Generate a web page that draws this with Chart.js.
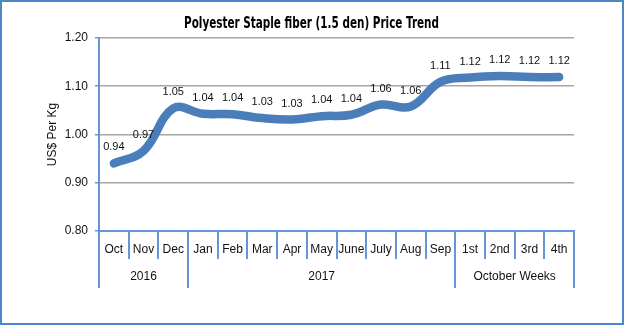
<!DOCTYPE html>
<html>
<head>
<meta charset="utf-8">
<script src="https://cdn.jsdelivr.net/npm/chart.js@4.4.1/dist/chart.umd.min.js"></script>
<style>
  html, body { margin: 0; padding: 0; background: #fff; }
  #wrap { position: relative; width: 625px; height: 325px; }
  #frame { position: absolute; left: 0; top: 0; width: 620px; height: 321px; border: 2px solid #4a86c8; pointer-events: none; }
</style>
</head>
<body>
<div id="wrap">
  <canvas id="priceChart" width="625" height="325"></canvas>
  <div id="frame"></div>
</div>
<script>
  const chartTitle = 'Polyester Staple fiber (1.5 den) Price Trend';
  const months = ['Oct', 'Nov', 'Dec', 'Jan', 'Feb', 'Mar', 'Apr', 'May', 'June', 'July', 'Aug', 'Sep', '1st', '2nd', '3rd', '4th'];
  const prices = [0.94, 0.966, 1.054, 1.043, 1.042, 1.034, 1.031, 1.038, 1.041, 1.062, 1.058, 1.109, 1.118, 1.121, 1.119, 1.119];
  const groups = ['2016', '2017', 'October Weeks'];
  const groupSizes = [3, 9, 4];
  const yTicks = [0.8, 0.9, 1.0, 1.1, 1.2];

  const axisBlue = '#6595d6';

  // titulo estrecho (no hay Arial Narrow), se comprime en horizontal
  const narrowTitle = {
    id: 'narrowTitle',
    afterDraw(chart) {
      const ctx = chart.ctx;
      ctx.save();
      ctx.font = 'bold 16px "DejaVu Sans Condensed", "DejaVu Sans", sans-serif';
      ctx.fillStyle = '#000';
      ctx.textBaseline = 'alphabetic';
      const w = ctx.measureText(chartTitle).width;
      const targetW = 255;
      const cx = (chart.chartArea.left + chart.chartArea.right) / 2 - 25;
      ctx.translate(cx - targetW / 2, 28);
      ctx.scale(targetW / w, 1);
      ctx.fillText(chartTitle, 0, 0);
      ctx.restore();
    }
  };

  // etiquetas de valor encima de cada punto
  const valueLabels = {
    id: 'valueLabels',
    afterDatasetsDraw(chart) {
      const ctx = chart.ctx;
      const meta = chart.getDatasetMeta(0);
      ctx.save();
      ctx.font = '11px "Liberation Sans", Arial, sans-serif';
      ctx.fillStyle = '#111';
      ctx.textAlign = 'center';
      ctx.textBaseline = 'middle';
      meta.data.forEach((pt, i) => {
        ctx.fillText(prices[i].toFixed(2), pt.x, pt.y - 16);
      });
      ctx.restore();
    }
  };

  // divisiones del eje x y fila de grupos
  const groupAxis = {
    id: 'groupAxis',
    afterDraw(chart) {
      const ctx = chart.ctx;
      const x = chart.scales.x;
      const half = (x.getPixelForTick(1) - x.getPixelForTick(0)) / 2;
      const edge = (i) => x.getPixelForTick(0) - half + i * half * 2;
      const top = x.top;
      const bounds = [0];
      groupSizes.forEach((n) => bounds.push(bounds[bounds.length - 1] + n));

      ctx.save();
      ctx.strokeStyle = axisBlue;
      ctx.lineWidth = 2;
      for (let i = 0; i <= months.length; i++) {
        const px = Math.round(edge(i));
        const bottom = bounds.includes(i) ? top + 57 : top + 28;
        ctx.beginPath();
        ctx.moveTo(px, top);
        ctx.lineTo(px, bottom);
        ctx.stroke();
      }
      ctx.font = '12px "Liberation Sans", Arial, sans-serif';
      ctx.fillStyle = '#111';
      ctx.textAlign = 'center';
      ctx.textBaseline = 'middle';
      groups.forEach((g, k) => {
        const cx = (edge(bounds[k]) + edge(bounds[k + 1])) / 2;
        ctx.fillText(g, cx, top + 46);
      });
      ctx.restore();
    }
  };

  new Chart(document.getElementById('priceChart'), {
    type: 'line',
    data: {
      labels: months,
      datasets: [{
        data: prices,
        borderColor: '#4a7ebb',
        borderWidth: 8.5,
        borderCapStyle: 'round',
        tension: 0.4,
        pointRadius: 0,
        fill: false
      }]
    },
    options: {
      responsive: false,
      devicePixelRatio: 1,
      animation: false,
      layout: { padding: { left: 40, right: 51, top: 38, bottom: 0 } },
      plugins: {
        legend: { display: false },
        tooltip: { enabled: false },
        title: { display: false }
      },
      scales: {
        x: {
          offset: true,
          grid: { display: true, drawOnChartArea: false, drawTicks: false, offset: true },
          border: { color: axisBlue, width: 2 },
          ticks: {
            autoSkip: false,
            maxRotation: 0,
            padding: 11,
            color: '#111',
            font: { family: '"Liberation Sans", Arial, sans-serif', size: 12 }
          },
          afterFit: (scale) => { scale.height = 94; }
        },
        y: {
          min: 0.8,
          max: 1.2,
          afterBuildTicks: (scale) => { scale.ticks = yTicks.map((v) => ({ value: v })); },
          grid: { color: '#a6a6a6', lineWidth: 1.5, tickLength: 4, tickColor: axisBlue },
          border: { color: axisBlue, width: 2 },
          ticks: {
            padding: 7,
            color: '#111',
            font: { family: '"Liberation Sans", Arial, sans-serif', size: 12 },
            callback: (v) => Number(v).toFixed(2)
          },
          title: {
            display: true,
            text: 'US$ Per Kg',
            color: '#111',
            font: { family: '"Liberation Sans", Arial, sans-serif', size: 12 },
            padding: { top: 5, bottom: 0 }
          },
          afterFit: (scale) => { scale.width = 59; }
        }
      }
    },
    plugins: [valueLabels, groupAxis, narrowTitle]
  });
</script>
</body>
</html>
